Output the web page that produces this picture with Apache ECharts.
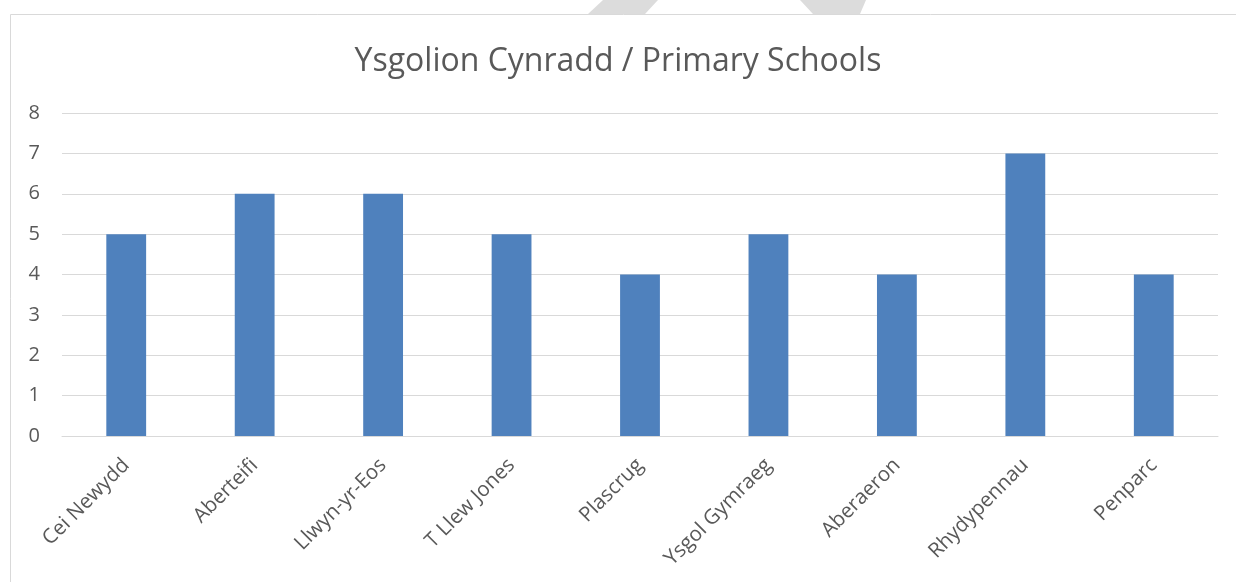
<!DOCTYPE html>
<html>
<head>
<meta charset="utf-8">
<script src="https://cdn.jsdelivr.net/npm/echarts@6/dist/echarts.min.js"></script>
<style>
  html, body { margin: 0; padding: 0; background: #fff; }
  #chart { width: 1236px; height: 582px; }
</style>
</head>
<body>
<div id="chart"></div>
<script>
// schools along the x axis
const schools = [
  "Cei Newydd", "Aberteifi", "Llwyn-yr-Eos", "T Llew Jones", "Plascrug",
  "Ysgol Gymraeg", "Aberaeron", "Rhydypennau", "Penparc"
];
const counts = [5, 6, 6, 5, 4, 5, 4, 7, 4];

const chart = echarts.init(document.getElementById("chart"), null, { renderer: "canvas" });

const textColor = "#595959";
const gridColor = "#d9d9d9";

chart.setOption({
  animation: false,
  title: {
    text: "Ysgolion Cynradd / Primary Schools",
    left: "center",
    top: 41,
    textStyle: {
      fontFamily: "Open Sans",
      fontWeight: "normal",
      fontSize: 32,
      color: textColor,
    },
  },
  grid: { left: 62, right: 18, top: 113, bottom: 146 },
  xAxis: {
    type: "category",
    data: schools,
    axisLine: { lineStyle: { color: gridColor } },
    axisTick: { show: false },
    axisLabel: {
      rotate: 45,
      interval: 0,
      color: textColor,
      fontFamily: "Open Sans",
      fontSize: 20.5,
      margin: 26,
    },
  },
  yAxis: {
    type: "value",
    min: 0,
    max: 8,
    interval: 1,
    axisLine: { show: false },
    axisTick: { show: false },
    axisLabel: {
      color: textColor,
      fontFamily: "Open Sans",
      fontSize: 20,
      margin: 22,
    },
    splitLine: { lineStyle: { color: gridColor } },
  },
  series: [
    {
      type: "bar",
      data: counts,
      barWidth: "31%",
      itemStyle: { color: "#4f81bd" },
    },
  ],
  graphic: [
    // chart frame
    {
      type: "rect",
      shape: { x: 10.5, y: 14.5, width: 1240, height: 600 },
      style: { fill: null, stroke: gridColor, lineWidth: 1 },
      silent: true,
    },
    // watermark bits at the top
    {
      type: "polygon",
      shape: { points: [[603, 0], [658, 0], [645, 14], [588, 14]] },
      style: { fill: "#dcdcdc" },
      silent: true,
    },
    {
      type: "polygon",
      shape: { points: [[800, 0], [866, 0], [860, 14], [813, 14]] },
      style: { fill: "#dcdcdc" },
      silent: true,
    },
  ],
});
</script>
</body>
</html>
